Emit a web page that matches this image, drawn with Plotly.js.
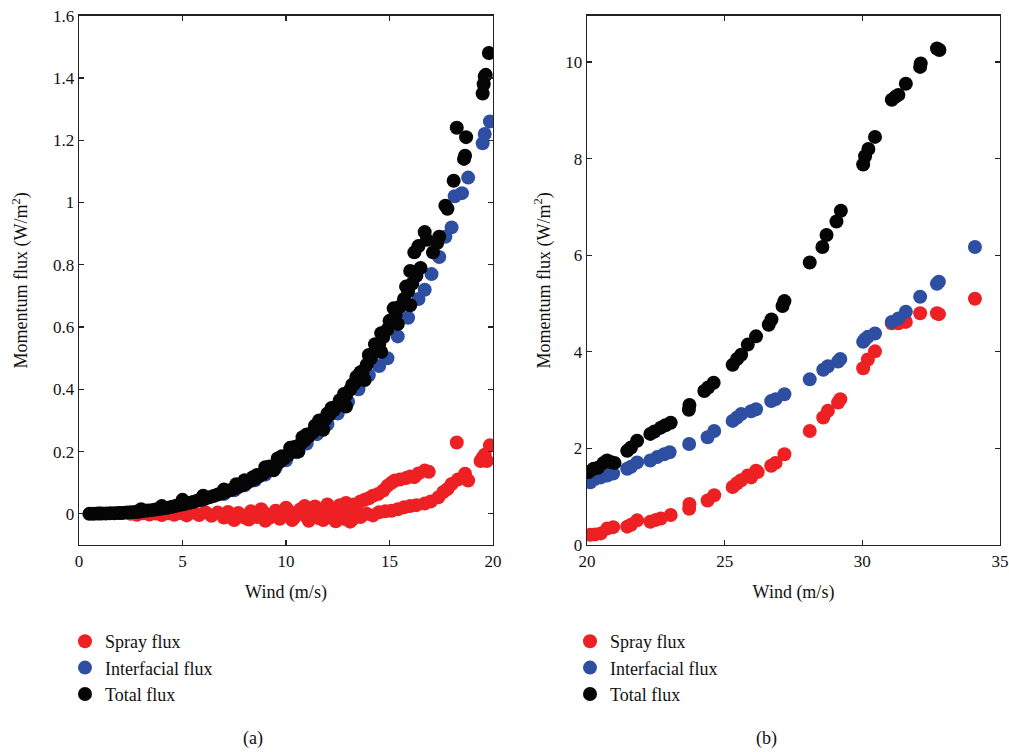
<!DOCTYPE html>
<html>
<head>
<meta charset="utf-8">
<script src="https://cdn.plot.ly/plotly-3.0.1.min.js"></script>
<style>html,body{margin:0;padding:0;background:#fff;}#chart{width:1009px;height:752px;}</style>
</head>
<body>
<div id="chart"></div>
<script>
// ---------- Panel (a): wind 0-20 m/s ----------
const aSprayX = [2.5,2.8,3.1,3.4,3.7,4.0,4.3,4.6,4.9,5.2,5.5,5.8,6.1,6.4,6.7,7.0,7.2,7.4,7.7,8.0,8.3,8.6,8.9,9.2,9.5,9.8,10.1,10.4,10.7,10.9,11.0,11.3,11.6,11.9,12.0,12.2,12.5,12.8,12.9,13.0,13.2,13.3,13.4,13.6,13.8,14.0,14.2,14.45,14.7,14.9,15.1,15.26,15.5,15.8,16.0,16.2,16.4,16.7,16.9,13.6,13.9,14.2,14.5,14.8,15.1,15.4,15.7,16.0,16.3,16.7,17.0,17.36,17.6,17.8,18.0,18.3,18.65,18.8,19.4,19.5,19.6,19.7,19.85,18.25,
  7.5,8.2,9.0,9.7,10.3,11.1,11.8,12.4,13.1,8.8,10.0,11.4,12.6];
const aSprayY = [0.000,-0.003,0.002,-0.002,0.001,-0.004,0.002,-0.003,0.003,-0.005,0.004,-0.004,0.005,-0.006,0.004,-0.012,0.006,-0.014,0.003,-0.012,0.008,-0.010,0.005,-0.013,0.010,-0.008,0.012,-0.012,0.015,0.025,-0.010,0.012,-0.014,0.016,0.030,-0.012,0.018,-0.016,0.035,0.020,-0.018,0.030,0.008,0.040,0.045,0.050,0.058,0.064,0.075,0.090,0.100,0.107,0.110,0.115,0.120,0.118,0.130,0.139,0.135,-0.010,0.000,-0.005,0.005,0.008,0.010,0.015,0.021,0.025,0.028,0.033,0.040,0.053,0.070,0.080,0.096,0.110,0.129,0.107,0.170,0.180,0.190,0.170,0.220,0.229,
  -0.020,-0.018,-0.022,-0.016,-0.020,-0.022,-0.020,-0.024,-0.025,0.015,0.020,0.024,0.028];

const aInterX = [1,2,3,4,5,6,7,7.5,8,8.5,9,9.5,10,10.5,11,11.5,12,12.5,13,13.5,14,14.5,14.9,15.4,15.9,16.4,16.7,17.03,17.4,17.7,18.0,18.15,18.5,18.8,19.5,19.6,19.85];
const aInterY = [0.001,0.003,0.008,0.016,0.029,0.045,0.064,0.076,0.092,0.108,0.126,0.148,0.172,0.198,0.226,0.256,0.288,0.322,0.360,0.400,0.445,0.475,0.500,0.570,0.630,0.690,0.720,0.770,0.825,0.890,0.920,1.020,1.030,1.080,1.190,1.220,1.260];

const aTotalX = [0.5,0.7,0.9,1.1,1.3,1.5,1.7,1.9,2.1,2.3,2.5,2.7,2.9,3.1,3.3,3.5,3.7,3.9,4.1,4.3,4.5,4.7,4.9,5.1,5.3,5.5,5.7,5.9,6.1,6.3,6.5,6.7,6.9,7.1,7.3,7.5,7.7,7.9,8.1,8.3,8.5,8.7,8.9,9.1,9.3,9.5,9.7,9.9,10.1,10.3,10.5,10.7,10.9,11.1,11.3,11.5,11.7,11.9,12.1,12.3,12.5,12.7,12.9,13.1,13.3,13.5,13.7,13.9,14.1,14.3,14.5,14.7,14.9,15.1,15.3,15.5,15.7,15.9,16.1,16.3,16.5,
  16.2,16.4,16.7,16.8,17.1,17.3,17.4,17.7,17.8,18.1,18.25,18.6,18.65,18.7,19.5,19.55,19.6,19.65,19.8,
  6.0,7.0,8.0,8.6,9.2,9.8,10.4,11.0,11.6,12.2,12.8,13.4,14.0,14.6,15.2,15.8,16.0,
  9.4,10.6,11.8,12.9,13.8,14.6,15.4,16.0,
  3.0,4.0,5.0,7.6,8.4,9.0,9.6,10.2,10.8,11.4,12.0,12.6,13.2,13.6,14.3,15.0];
const aTotalY = [0.000,0.000,0.001,0.001,0.001,0.002,0.002,0.003,0.003,0.004,0.005,0.006,0.007,0.009,0.011,0.012,0.014,0.016,0.018,0.020,0.023,0.026,0.029,0.032,0.035,0.038,0.042,0.045,0.049,0.053,0.057,0.062,0.066,0.071,0.076,0.081,0.086,0.092,0.099,0.106,0.113,0.121,0.129,0.138,0.147,0.157,0.167,0.178,0.189,0.200,0.212,0.224,0.236,0.249,0.262,0.276,0.290,0.304,0.318,0.333,0.348,0.364,0.381,0.399,0.418,0.438,0.458,0.479,0.500,0.522,0.545,0.568,0.592,0.616,0.640,0.665,0.690,0.715,0.740,0.765,0.790,
  0.840,0.860,0.905,0.880,0.840,0.870,0.890,0.990,0.980,1.070,1.240,1.140,1.150,1.210,1.350,1.380,1.405,1.410,1.480,
  0.058,0.078,0.108,0.125,0.152,0.185,0.215,0.255,0.300,0.340,0.385,0.440,0.510,0.580,0.660,0.730,0.780,
  0.140,0.200,0.270,0.345,0.430,0.520,0.610,0.670,
  0.015,0.025,0.045,0.095,0.118,0.150,0.178,0.212,0.246,0.283,0.322,0.365,0.415,0.455,0.545,0.620];

// ---------- Panel (b): wind 20-35 m/s ----------
const bSprayX = [20.12,20.3,20.5,20.73,20.95,21.46,21.6,21.82,22.3,22.5,22.68,23.04,23.71,23.72,24.38,24.62,25.29,25.45,25.6,25.84,25.96,26.14,26.2,26.69,26.85,27.17,28.09,28.58,28.75,29.12,29.2,30.03,30.2,30.46,31.07,31.31,31.58,32.1,32.71,32.78,34.09];
const bSprayY = [0.21,0.22,0.24,0.34,0.37,0.38,0.42,0.51,0.48,0.52,0.55,0.62,0.75,0.85,0.92,1.03,1.20,1.28,1.34,1.44,1.40,1.54,1.51,1.64,1.70,1.88,2.36,2.64,2.78,2.95,3.02,3.66,3.84,4.01,4.59,4.59,4.62,4.80,4.80,4.78,5.10];

const bInterX = [20.12,20.3,20.5,20.73,20.95,21.46,21.6,21.82,22.3,22.55,22.8,23.0,23.71,24.38,24.62,25.29,25.45,25.6,25.96,26.14,26.69,26.85,27.17,28.09,28.58,28.75,29.12,29.2,30.03,30.1,30.2,30.46,31.07,31.31,31.58,32.1,32.71,32.78,34.09];
const bInterY = [1.30,1.37,1.40,1.44,1.48,1.58,1.62,1.71,1.75,1.82,1.88,1.92,2.09,2.23,2.36,2.57,2.64,2.71,2.77,2.81,2.98,3.02,3.12,3.43,3.63,3.70,3.80,3.85,4.21,4.26,4.31,4.38,4.62,4.69,4.83,5.14,5.41,5.45,6.17];

const bTotalX = [20.06,20.24,20.4,20.6,20.73,20.85,21.0,21.46,21.6,21.82,22.3,22.45,22.68,22.85,23.04,23.7,23.72,24.26,24.4,24.6,25.29,25.45,25.6,25.84,26.14,26.6,26.7,27.1,27.17,28.09,28.55,28.7,29.06,29.22,30.03,30.1,30.22,30.46,31.07,31.2,31.31,31.58,32.1,32.12,32.71,32.8];
const bTotalY = [1.51,1.58,1.60,1.70,1.75,1.72,1.70,1.95,2.02,2.16,2.30,2.35,2.43,2.48,2.53,2.80,2.90,3.19,3.26,3.36,3.73,3.85,3.94,4.15,4.32,4.56,4.67,4.95,5.05,5.85,6.17,6.42,6.70,6.92,7.88,8.05,8.20,8.45,9.22,9.28,9.32,9.55,9.90,9.97,10.28,10.25];

const seriesNames = ['Spray flux','Interfacial flux','Total flux'];
const seriesColors = ['#ED2024','#2E4EA2','#050505'];
const panelLabels = ['(a)','(b)'];

const FONT = "'Liberation Serif', 'DejaVu Serif', serif";
const MS = 14;

function tr(x, y, i, xa, ya, leg) {
  return {x: x, y: y, type: 'scatter', mode: 'markers', name: seriesNames[i],
    xaxis: xa, yaxis: ya, legend: leg,
    marker: {color: seriesColors[i], size: MS, line: {width: 0}}};
}

const data = [
  tr(aSprayX, aSprayY, 0, 'x', 'y', 'legend'),
  tr(aInterX, aInterY, 1, 'x', 'y', 'legend'),
  tr(aTotalX, aTotalY, 2, 'x', 'y', 'legend'),
  tr(bSprayX, bSprayY, 0, 'x2', 'y2', 'legend2'),
  tr(bInterX, bInterY, 1, 'x2', 'y2', 'legend2'),
  tr(bTotalX, bTotalY, 2, 'x2', 'y2', 'legend2')
];

const axCommon = {
  showgrid: false, zeroline: false, showline: true, mirror: 'ticks',
  linecolor: '#222', linewidth: 1.3, ticks: 'inside', ticklen: 5, tickwidth: 1.2,
  tickcolor: '#222', tickfont: {family: FONT, size: 17, color: '#111'}
};
const yDom = [1 - 545/752, 1 - 15.7/752];

const layout = {
  width: 1009, height: 752,
  margin: {l: 0, r: 0, t: 0, b: 0},
  paper_bgcolor: '#fff', plot_bgcolor: '#fff',
  font: {family: FONT, color: '#111'},
  xaxis: Object.assign({}, axCommon, {domain: [79/1009, 493/1009], range: [0, 20], tickvals: [0,5,10,15,20], anchor: 'y',
    title: {text: 'Wind (m/s)', font: {family: FONT, size: 18}, standoff: 15}}),
  yaxis: Object.assign({}, axCommon, {domain: yDom, range: [-0.1, 1.6], tickvals: [0,0.2,0.4,0.6,0.8,1,1.2,1.4,1.6], anchor: 'x',
    ticktext: ['0','0.2','0.4','0.6','0.8','1','1.2','1.4','1.6'], tickmode: 'array',
    title: {text: 'Momentum flux (W/m<sup>2</sup>)', font: {family: FONT, size: 18}, standoff: 20}}),
  xaxis2: Object.assign({}, axCommon, {domain: [587/1009, 1000/1009], range: [20, 35], tickvals: [20,25,30,35], anchor: 'y2',
    title: {text: 'Wind (m/s)', font: {family: FONT, size: 18}, standoff: 15}}),
  yaxis2: Object.assign({}, axCommon, {domain: yDom, range: [0, 10.96], tickvals: [0,2,4,6,8,10], anchor: 'x2',
    title: {text: 'Momentum flux (W/m<sup>2</sup>)', font: {family: FONT, size: 18}, standoff: 10}}),
  legend: {x: 65/1009, xanchor: 'left', y: 1 - 623/752, yanchor: 'top', bgcolor: 'rgba(0,0,0,0)',
    font: {family: FONT, size: 18, color: '#111'}, traceorder: 'normal'},
  legend2: {x: 570/1009, xanchor: 'left', y: 1 - 623/752, yanchor: 'top', bgcolor: 'rgba(0,0,0,0)',
    font: {family: FONT, size: 18, color: '#111'}, traceorder: 'normal'},
  annotations: [
    {text: panelLabels[0], xref: 'paper', yref: 'paper', x: 253/1009, y: 1 - 738/752, showarrow: false,
      xanchor: 'center', yanchor: 'middle', font: {family: FONT, size: 18, color: '#111'}},
    {text: panelLabels[1], xref: 'paper', yref: 'paper', x: 766/1009, y: 1 - 738/752, showarrow: false,
      xanchor: 'center', yanchor: 'middle', font: {family: FONT, size: 18, color: '#111'}}
  ],
  showlegend: true
};

Plotly.newPlot('chart', data, layout, {displayModeBar: false, staticPlot: true});
</script>
</body>
</html>
